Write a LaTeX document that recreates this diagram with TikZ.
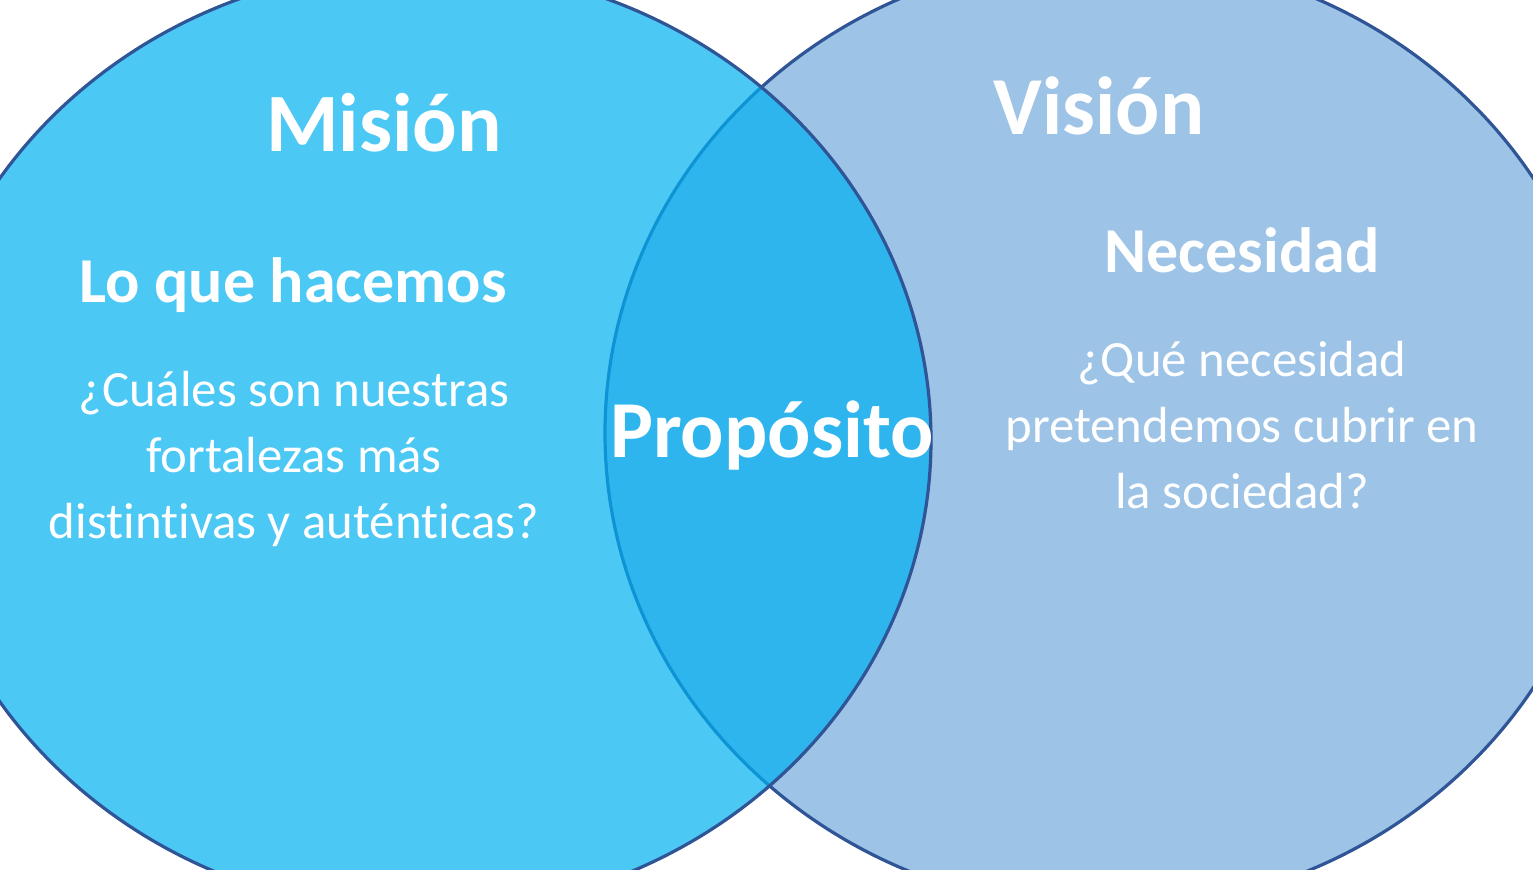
\documentclass[tikz,border=0pt]{standalone}
\usepackage{fontspec}
\setmainfont{Carlito}[Ligatures=NoCommon]
\usepackage{tikz}

\definecolor{mision}{HTML}{00B0F0}
\definecolor{vision}{HTML}{9DC3E6}
\definecolor{borde}{HTML}{2F5597}

\begin{document}
\begin{tikzpicture}[x=0.5pt,y=-0.5pt,
    titulo/.style={text=white,anchor=base,inner sep=0pt,font=\bfseries\fontsize{41.5}{50}\selectfont},
    subtitulo/.style={text=white,anchor=base,inner sep=0pt,font=\bfseries\fontsize{32}{38}\selectfont},
    pregunta/.style={text=white,anchor=base,inner sep=0pt,align=center,font=\fontsize{25.4}{33}\selectfont}]
    \useasboundingbox (0,0) rectangle (1533,870);
    \clip (0,0) rectangle (1533,870);
    \draw[line width=1.6pt, draw=borde, fill=vision] (1108,433) ellipse [x radius=503, y radius=477];
    \draw[line width=1.6pt, draw=borde, fill=mision, fill opacity=.7] (423,440) ellipse [x radius=508, y radius=473];
    \node[titulo] (mision) at (384,152) {Misión};
    \node[titulo, font=\bfseries\fontsize{41.2}{50}\selectfont] (vision) at (1099,135) {Visión};
    \node[subtitulo] (hacemos) at (293,303) {Lo que hacemos};
    \node[subtitulo] (necesidad) at (1242,273) {Necesidad};
    % el ancla base queda en la ultima linea
    \node[pregunta] (fortalezas) at (294,539) {¿Cuáles son nuestras\\fortalezas más\\distintivas y auténticas?};
    \node[pregunta] (sociedad) at (1242,509) {¿Qué necesidad\\pretendemos cubrir en\\la sociedad?};
    \node[titulo, font=\bfseries\fontsize{40.4}{48}\selectfont] (proposito) at (772,458) {Propósito};
\end{tikzpicture}
\end{document}
